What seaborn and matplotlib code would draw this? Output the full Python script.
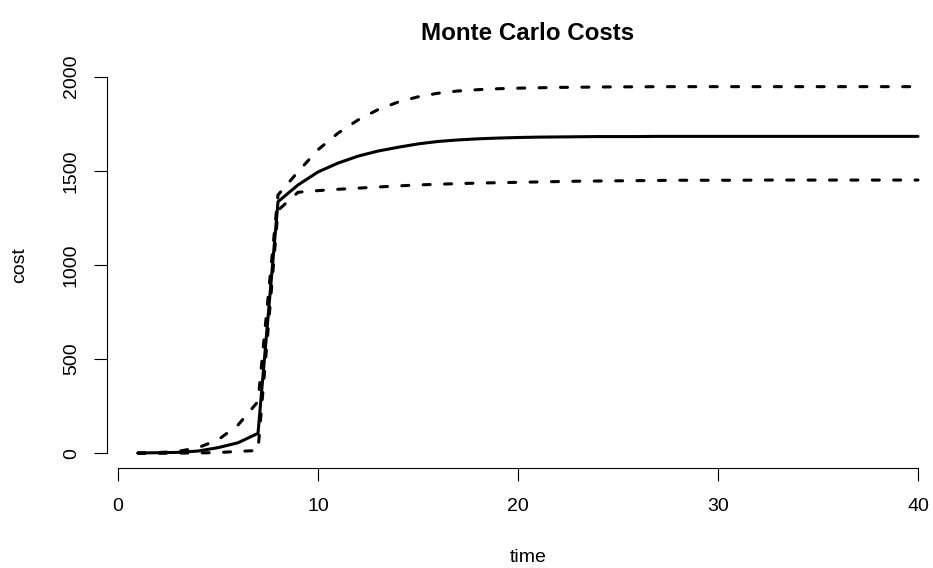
import matplotlib
matplotlib.use("Agg")
import matplotlib.pyplot as plt
import seaborn as sns

# Simulated cumulative cost over time: mean and the two envelope curves
time = list(range(1, 41))

mean_cost = [2, 3, 5, 12, 30, 56, 106, 1336, 1425, 1494, 1541, 1578, 1605, 1625,
             1643, 1656, 1664, 1670, 1674, 1677, 1679, 1680, 1681, 1682, 1682,
             1682, 1683, 1683, 1683, 1683, 1683, 1683, 1683, 1683, 1683, 1683,
             1683, 1683, 1683, 1683]

upper_cost = [2, 4, 10, 30, 71, 150, 275, 1372, 1495, 1612, 1700, 1770, 1825,
              1865, 1893, 1912, 1924, 1931, 1936, 1939, 1941, 1943, 1944, 1945,
              1946, 1946, 1947, 1947, 1947, 1947, 1947, 1947, 1947, 1947, 1947,
              1947, 1947, 1947, 1947, 1947]

lower_cost = [0, 0, 1, 2, 4, 10, 15, 1290, 1386, 1395, 1402, 1408, 1414, 1420,
              1425, 1429, 1432, 1435, 1437, 1439, 1441, 1443, 1445, 1446, 1447,
              1448, 1449, 1450, 1450, 1450, 1450, 1451, 1451, 1451, 1451, 1451,
              1451, 1451, 1451, 1451]

x_ticks = [0, 10, 20, 30, 40]
y_ticks = [0, 500, 1000, 1500, 2000]

sns.set_style("white")
plt.rcParams["font.family"] = ["Liberation Sans", "DejaVu Sans"]
plt.rcParams["text.color"] = "black"
plt.rcParams["axes.labelcolor"] = "black"

W, H = 933, 568
fig = plt.figure(figsize=(W / 100, H / 100), dpi=100)
left, right, top, bottom = 106.8, 949.2, 71.4, 468.0
ax = fig.add_axes([left / W, 1 - bottom / H, (right - left) / W, (bottom - top) / H])

lw = 2.2
sns.lineplot(x=time, y=mean_cost, ax=ax, color="black", linewidth=lw,
             solid_capstyle="round", solid_joinstyle="round")
for band in (upper_cost, lower_cost):
    sns.lineplot(x=time, y=band, ax=ax, color="black", linewidth=lw,
                 linestyle=(0, (2.3, 4.7)), dash_capstyle="round",
                 dash_joinstyle="round")

ax.set_xlim(-0.56, 41.56)
ax.set_ylim(-78, 2028)

for side in ("top", "right"):
    ax.spines[side].set_visible(False)
for side in ("left", "bottom"):
    ax.spines[side].set_color("black")
    ax.spines[side].set_linewidth(0.8)
ax.spines["bottom"].set_bounds(x_ticks[0], x_ticks[-1])
ax.spines["left"].set_bounds(y_ticks[0], y_ticks[-1])

ax.set_xticks(x_ticks)
ax.set_yticks(y_ticks)
ax.set_xticklabels([str(v) for v in x_ticks])
ax.set_yticklabels([str(v) for v in y_ticks])
ax.tick_params(axis="both", which="major", bottom=True, left=True,
               direction="out", length=9.4, width=0.8,
               color="black", labelsize=14, labelcolor="black")
ax.tick_params(axis="x", pad=12)
ax.tick_params(axis="y", pad=10, labelrotation=90)
for lab in ax.get_yticklabels():
    lab.set_va("center")

ax.set_xlabel("time", fontsize=14, color="black")
ax.set_ylabel("cost", fontsize=14, color="black")
ax.xaxis.set_label_coords((528 - left) / (right - left), (bottom - 557) / (bottom - top))
ax.xaxis.label.set_va("center")
ax.yaxis.set_label_coords((20 - left) / (right - left), (bottom - 265) / (bottom - top))
ax.yaxis.label.set_va("center")

fig.text(528 / W, 1 - 33 / H, "Monte Carlo Costs", ha="center", va="center",
         fontsize=17.4, fontweight="bold", color="black")

fig.savefig("out.png", dpi=100)
